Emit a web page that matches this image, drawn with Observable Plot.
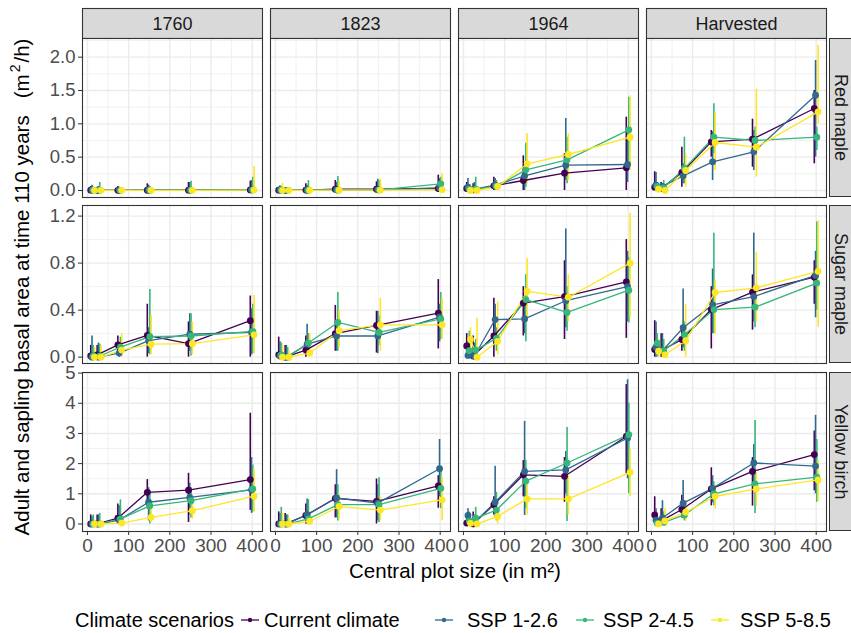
<!DOCTYPE html>
<html><head><meta charset="utf-8">
<script src="https://cdn.jsdelivr.net/npm/d3@7"></script>
<script src="https://cdn.jsdelivr.net/npm/@observablehq/plot@0.6"></script>
<style>
body{margin:0;background:#fff;}
#root{position:relative;width:851px;height:633px;overflow:hidden;font-family:'Liberation Sans',Arial,sans-serif;background:#fff;}
.abs{position:absolute;white-space:nowrap;}
#root svg{overflow:visible;}
</style></head><body><div id="root"></div>
<script>
// ---------- data ----------
const sizes = [12.6, 28.3, 78.5, 150, 250, 400];
const periods = ["1760", "1823", "1964", "Harvested"];
const species = ["Red maple", "Sugar maple", "Yellow birch"];
const scenarios = ["Current climate", "SSP 1-2.6", "SSP 2-4.5", "SSP 5-8.5"];
const colors = ["#440154", "#31688E", "#35B779", "#FDE725"];

// [period][scenario][size]
const redMean = [
  [[0.005,0.003,0.003,0.004,0.005,0.008],[0.006,0.004,0.003,0.004,0.006,0.01],[0.007,0.005,0.003,0.004,0.006,0.01],[0.003,0.002,0.002,0.002,0.003,0.006]],
  [[0.005,0.003,0.006,0.02,0.02,0.03],[0.006,0.003,0.004,0.01,0.01,0.04],[0.005,0.003,0.005,0.005,0.01,0.1],[0.003,0.002,0.002,0.005,0.005,0.01]],
  [[0.03,0.01,0.07,0.15,0.26,0.34],[0.05,0.02,0.08,0.22,0.38,0.39],[0.02,0.02,0.06,0.31,0.46,0.91],[0.0,0.0,0.06,0.40,0.54,0.80]],
  [[0.05,0.03,0.27,0.73,0.77,1.23],[0.08,0.06,0.22,0.43,0.58,1.43],[0.06,0.04,0.33,0.80,0.75,0.80],[0.02,0.0,0.30,0.72,0.65,1.18]]
];
const redLo = [
  [[0,0,0,0,0,0],[0,0,0,0,0,0],[0,0,0,0,0,0],[0,0,0,0,0,0]],
  [[0,0,0,0,0,0],[0,0,0,0,0,0],[0,0,0,0,0,0],[0,0,0,0,0,0]],
  [[0,0,0,0,0,0],[0,0,0,0,0.15,0.12],[0,0,0,0.05,0.1,0.4],[0,0,0,0.1,0.15,0.3]],
  [[0,0,0.05,0.5,0.35,0.4],[0,0,0.1,0.15,0.3,0.5],[0,0,0.1,0.55,0.55,0.6],[0,0,0.05,0.3,0.2,1.0]]
];
const redHi = [
  [[0.06,0.05,0.06,0.1,0.12,0.14],[0.08,0.06,0.05,0.08,0.12,0.15],[0.05,0.12,0.04,0.06,0.14,0.2],[0.04,0.03,0.03,0.05,0.05,0.36]],
  [[0.05,0.04,0.1,0.15,0.13,0.23],[0.07,0.04,0.08,0.12,0.17,0.18],[0.06,0.04,0.15,0.21,0.15,0.2],[0.11,0.03,0.06,0.14,0.17,0.25]],
  [[0.12,0.1,0.2,0.52,0.55,1.1],[0.18,0.12,0.18,0.35,1.08,0.85],[0.08,0.2,0.15,0.71,0.8,1.4],[0.05,0.06,0.12,0.85,0.85,1.42]],
  [[0.28,0.12,0.65,0.9,1.07,1.5],[0.27,0.1,0.4,0.88,0.9,1.95],[0.12,0.15,0.8,1.3,0.95,0.95],[0.1,0.08,0.55,1.17,1.52,2.18]]
];

const sugarMean = [
  [[0.01,0.02,0.105,0.185,0.115,0.31],[0.0,0.0,0.035,0.14,0.195,0.21],[0.01,0.01,0.085,0.175,0.18,0.22],[0.0,0.0,0.06,0.11,0.115,0.19]],
  [[0.02,0.0,0.06,0.2,0.27,0.375],[0.01,0.0,0.11,0.18,0.18,0.34],[0.02,0.0,0.12,0.295,0.21,0.325],[0.0,0.0,0.035,0.225,0.275,0.275]],
  [[0.095,0.01,0.18,0.46,0.515,0.64],[0.015,0.01,0.32,0.325,0.48,0.6],[0.055,0.06,0.16,0.49,0.38,0.57],[0.15,0.0,0.135,0.56,0.51,0.8]],
  [[0.065,0.055,0.15,0.405,0.553,0.68],[0.085,0.055,0.25,0.445,0.515,0.695],[0.12,0.055,0.19,0.405,0.425,0.63],[0.05,0.02,0.14,0.55,0.59,0.73]]
];
const sugarLo = [
  [[0,0,0.03,0,0,0],[0,0,0,0.03,0.05,0.02],[0,0,0.01,0.02,0.01,0.03],[0,0,0,0.02,0.02,0.03]],
  [[0,0,0,0.05,0.035,0.07],[0,0,0.02,0.05,0.03,0.13],[0,0,0.03,0.05,0.1,0.15],[0,0,0,0.08,0.05,0.15]],
  [[0,0,0,0.18,0.15,0.16],[0,0,0.15,0.2,0.25,0.3],[0,0,0.05,0.13,0.22,0.29],[0.05,0,0.02,0.3,0.3,0.33]],
  [[0,0,0.05,0.07,0.23,0.45],[0,0,0.08,0.2,0.3,0.335],[0,0,0.05,0.2,0.25,0.4],[0,0,0,0.2,0.3,0.255]]
];
const sugarHi = [
  [[0.1,0.1,0.18,0.45,0.3,0.52],[0.18,0.12,0.12,0.25,0.37,0.41],[0.1,0.11,0.17,0.575,0.37,0.45],[0.08,0.1,0.2,0.355,0.3,0.525]],
  [[0.17,0.1,0.18,0.44,0.39,0.66],[0.13,0.1,0.28,0.3,0.39,0.45],[0.12,0.08,0.2,0.55,0.35,0.55],[0.1,0.05,0.2,0.4,0.5,0.5]],
  [[0.2,0.18,0.5,0.6,0.82,1.0],[0.15,0.12,0.45,0.45,1.09,0.9],[0.22,0.15,0.25,0.7,0.6,0.85],[0.25,0.33,0.47,0.84,0.7,1.225]],
  [[0.31,0.2,0.25,0.6,0.7,0.82],[0.3,0.2,0.58,0.75,1.055,0.9],[0.2,0.15,0.3,1.055,0.6,1.15],[0.15,0.1,0.45,0.65,0.89,1.16]]
];

const birchMean = [
  [[0.0,0.0,0.19,1.05,1.12,1.47],[0.0,0.0,0.13,0.72,0.88,1.13],[0.0,0.0,0.17,0.6,0.77,1.16],[0.0,0.0,0.03,0.22,0.44,0.92]],
  [[0.0,0.0,0.28,0.85,0.75,1.26],[0.0,0.0,0.31,0.86,0.69,1.83],[0.0,0.0,0.17,0.64,0.64,1.18],[0.0,0.0,0.09,0.58,0.46,0.8]],
  [[0.03,0.0,0.64,1.63,1.58,2.9],[0.28,0.05,0.72,1.74,1.79,2.85],[0.09,0.19,0.46,1.42,2.02,2.96],[0.02,0.0,0.25,0.83,0.83,1.71]],
  [[0.3,0.1,0.48,1.16,1.74,2.3],[0.13,0.2,0.69,1.18,2.02,1.92],[0.02,0.05,0.3,1.0,1.33,1.55],[0.0,0.1,0.39,0.91,1.16,1.46]]
];
const birchLo = [
  [[0,0,0,0.5,0.05,0.45],[0,0,0,0.1,0.3,0.35],[0,0,0,0.0,0.2,0.4],[0,0,0,0.05,0.15,0.39]],
  [[0,0,0,0.2,0.0,0.52],[0,0,0,0.2,0.1,0.9],[0,0,0,0.1,0.05,0.5],[0,0,0,0.15,0.1,0.11]],
  [[0,0,0.3,0.9,0.72,1.66],[0,0,0.2,0.28,1.0,1.5],[0,0,0.1,0.5,0.08,1.0],[0,0,0.0,0.3,0.3,0.9]],
  [[0,0,0.2,0.6,0.59,1.1],[0,0,0.3,0.7,1.3,1.0],[0,0,0.1,0.6,0.35,0.72],[0,0,0.1,0.5,0.6,0.75]]
];
const birchHi = [
  [[0.3,0.3,0.66,1.47,1.68,3.67],[0.25,0.3,0.6,1.2,1.35,2.2],[0.3,0.35,0.8,1.1,1.2,1.95],[0.1,0.1,0.2,0.5,0.8,1.8]],
  [[0.4,0.35,0.66,1.3,1.49,1.6],[0.35,0.3,0.83,1.8,1.3,2.8],[0.55,0.3,0.8,1.3,1.53,1.9],[0.35,0.2,0.4,1.0,0.9,1.55]],
  [[0.3,0.4,0.9,2.1,2.2,4.62],[0.5,0.3,1.91,3.4,2.4,4.78],[0.4,0.55,1.05,2.1,3.2,4.0],[0.15,0.2,0.5,1.5,1.6,2.47]],
  [[0.9,0.5,0.95,1.86,2.2,3.08],[0.5,0.77,1.44,1.6,2.63,3.6],[0.2,0.4,0.6,1.4,3.43,2.8],[0.15,0.5,0.7,1.3,1.7,2.1]]
];

// tick values
const xMajor = [0, 100, 200, 300, 400];
const xMinor = [50, 150, 250, 350];
const yMajor = [[0, 0.5, 1, 1.5, 2], [0, 0.4, 0.8, 1.2], [0, 1, 2, 3, 4, 5]];
const yMinor = [[0.25, 0.75, 1.25, 1.75, 2.25], [0.2, 0.6, 1.0], [0.5, 1.5, 2.5, 3.5, 4.5]];
const yFormats = [".1f", ".1f", "d"];

// ---------- layout ----------
const FONT = "'Liberation Sans', Arial, sans-serif";
const root = document.getElementById("root");
const W = 851, ML = 81, MR = 23;
const xDomain = [-12, 425];
const yDomains = [[-0.105, 2.28], [-0.054, 1.29], [-0.25, 5.02]];
const rowTop = [37.7, 205, 372.3];
const rowH = [159, 158, 159];
const dodgeW = 12.4;
const dodge = scenarios.map((_, i) => (i - 1.5) * dodgeW / 4);
const GRID = "#EBEBEB";
const fxOpts = {domain: periods, paddingInner: 0.04, paddingOuter: 0, axis: null, label: null};

const sets = [[redMean, redLo, redHi], [sugarMean, sugarLo, sugarHi], [birchMean, birchLo, birchHi]];
const table = [];
sets.forEach(([M, L, H], si) => periods.forEach((p, pi) => scenarios.forEach((s, ci) => sizes.forEach((sz, k) => {
  table.push({species: species[si], period: p, scenario: s, size: sz, xd: sz + dodge[ci],
    mean: M[pi][ci][k], lo: L[pi][ci][k], hi: H[pi][ci][k]});
}))));

function place(el, top) {
  el.style.position = "absolute";
  el.style.left = "0px";
  el.style.top = top + "px";
  root.appendChild(el);
}

// top strips
const strip = Plot.plot({
  width: W, height: 39, marginTop: 8, marginBottom: 1, marginLeft: ML, marginRight: MR,
  style: {fontFamily: FONT, background: "transparent", overflow: "visible"},
  fx: fxOpts, x: {axis: null}, y: {axis: null},
  marks: [
    Plot.frame({fill: "#D9D9D9", stroke: "#333333", strokeWidth: 1.1}),
    Plot.text(periods, {fx: d => d, text: d => d, frameAnchor: "middle", fontSize: 18, fill: "#1A1A1A", dy: 1})
  ]
});
place(strip, -0.3);

species.forEach((sp, ri) => {
  const last = ri === species.length - 1;
  const mt = 4, mb = last ? 36 : 4;
  const data = table.filter(d => d.species === sp);
  const chart = Plot.plot({
    width: W, height: rowH[ri] + mt + mb,
    marginTop: mt, marginBottom: mb, marginLeft: ML, marginRight: MR,
    style: {fontFamily: FONT, background: "transparent", overflow: "visible"},
    fx: fxOpts,
    x: {domain: xDomain, axis: null},
    y: {domain: yDomains[ri], axis: null},
    color: {domain: scenarios, range: colors},
    marks: [
      Plot.frame({fill: "white", stroke: null}),
      Plot.gridX(xMinor, {stroke: GRID, strokeOpacity: 1, strokeWidth: 0.7}),
      Plot.gridY(yMinor[ri], {stroke: GRID, strokeOpacity: 1, strokeWidth: 0.7}),
      Plot.gridX(xMajor, {stroke: GRID, strokeOpacity: 1, strokeWidth: 1.4}),
      Plot.gridY(yMajor[ri], {stroke: GRID, strokeOpacity: 1, strokeWidth: 1.4}),
      Plot.ruleX(data, {fx: "period", x: "xd", y1: "lo", y2: "hi", stroke: "scenario", strokeWidth: 1.6}),
      Plot.line(data, {fx: "period", x: "xd", y: "mean", stroke: "scenario", z: "scenario", strokeWidth: 1.3}),
      Plot.dot(data, {fx: "period", x: "xd", y: "mean", fill: "scenario", r: 3.4}),
      Plot.frame({stroke: "#333333", strokeWidth: 1.1}),
      Plot.axisY(yMajor[ri], {tickSize: 4, tickPadding: 3, tickFormat: yFormats[ri], fontSize: 18.5,
        fill: "#4D4D4D", stroke: "#333333", label: null}),
      last ? Plot.axisX(xMajor, {tickSize: 4, tickPadding: 3, fontSize: 19, fill: "#4D4D4D",
        stroke: "#333333", label: null}) : null
    ]
  });
  place(chart, rowTop[ri] - mt);

  // right strip
  const rs = document.createElement("div");
  rs.className = "abs";
  Object.assign(rs.style, {left: "829px", top: rowTop[ri] + "px", width: "24px", height: rowH[ri] + "px",
    boxSizing: "border-box", background: "#D9D9D9", border: "1.1px solid #333333",
    display: "flex", alignItems: "center", justifyContent: "center"});
  const t = document.createElement("span");
  t.textContent = sp;
  Object.assign(t.style, {writingMode: "vertical-rl", fontSize: "18px", color: "#1A1A1A", marginLeft: "-2px"});
  rs.appendChild(t);
  root.appendChild(rs);
});

// axis titles
const yt = document.createElement("div");
yt.className = "abs";
yt.innerHTML = 'Adult and sapling basal area at time 110 years&nbsp;&nbsp;&nbsp;(m<span style="font-size:14px;position:relative;top:-9px;margin:0 2px">2</span>/h)';
Object.assign(yt.style, {left: "22px", top: "287px", transform: "translate(-50%,-50%) rotate(-90deg)",
  fontSize: "20.5px", color: "#000"});
root.appendChild(yt);

const xt = document.createElement("div");
xt.className = "abs";
xt.textContent = "Central plot size (in m²)";
Object.assign(xt.style, {left: "455px", top: "571px", transform: "translate(-50%,-50%)", fontSize: "20.5px", color: "#000"});
root.appendChild(xt);

// legend
const legTitle = document.createElement("div");
legTitle.className = "abs";
legTitle.textContent = "Climate scenarios";
Object.assign(legTitle.style, {left: "75px", top: "608px", lineHeight: "24px", fontSize: "20px", color: "#000"});
root.appendChild(legTitle);
const keyCenters = [250, 444, 585, 720];
const textLefts = [264, 467, 603, 740];
scenarios.forEach((s, i) => {
  const svg = d3.create("svg").attr("width", 20).attr("height", 10)
    .style("position", "absolute").style("left", (keyCenters[i] - 10) + "px").style("top", "615px");
  svg.append("line").attr("x1", 1).attr("x2", 19).attr("y1", 5).attr("y2", 5).attr("stroke", colors[i]).attr("stroke-width", 1.3);
  svg.append("circle").attr("cx", 10).attr("cy", 5).attr("r", 2.2).attr("fill", colors[i]);
  root.appendChild(svg.node());
  const lt = document.createElement("div");
  lt.className = "abs";
  lt.textContent = s;
  Object.assign(lt.style, {left: textLefts[i] + "px", top: "608px", lineHeight: "24px", fontSize: "20px", color: "#000"});
  root.appendChild(lt);
});
</script></body></html>
